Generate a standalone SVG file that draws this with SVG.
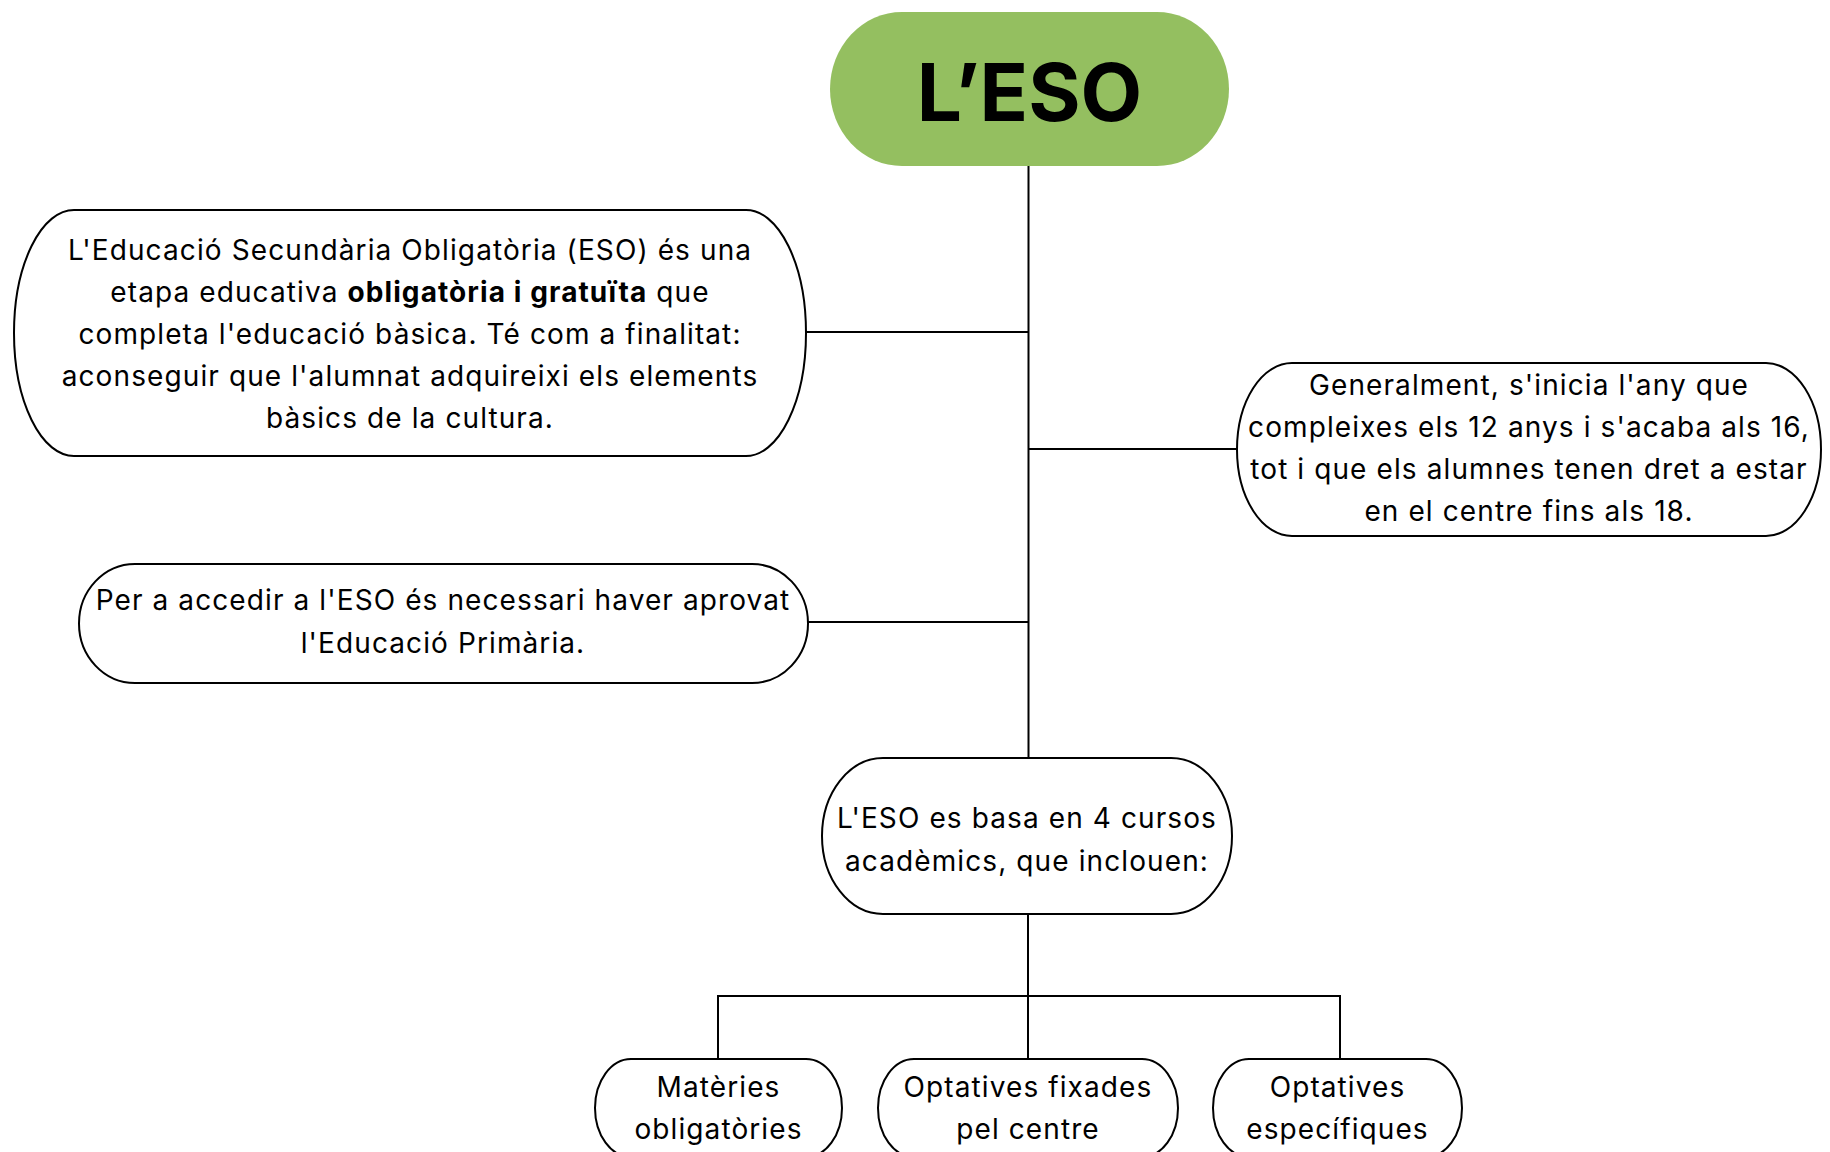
<svg xmlns="http://www.w3.org/2000/svg" width="1830" height="1152" viewBox="0 0 1830 1152">
<style>
.box{fill:#fff;stroke:#000;stroke-width:2}
.t{font-family:Inter,"Noto Sans","DejaVu Sans",sans-serif;font-size:28px;letter-spacing:1.1px;fill:#000;text-anchor:middle}
.b{font-weight:700}
.h{font-size:80px;letter-spacing:0}
.con line{stroke:#000;stroke-width:2}
</style>
<rect width="1830" height="1152" fill="#fff"/>
<g class="con">
<line x1="1028.5" y1="166" x2="1028.5" y2="758"/>
<line x1="806" y1="332" x2="1028.5" y2="332"/>
<line x1="1028.5" y1="449" x2="1237" y2="449"/>
<line x1="808" y1="622" x2="1028.5" y2="622"/>
<line x1="1028" y1="914" x2="1028" y2="1059"/>
<line x1="717" y1="996" x2="1341" y2="996"/>
<line x1="718" y1="996" x2="718" y2="1059"/>
<line x1="1340" y1="996" x2="1340" y2="1059"/>
</g>
<g id="title">
<rect x="830" y="12" width="399" height="154" rx="72" ry="77" fill="#94BF60"/>
<text x="1029.5" y="121" class="t b h">L’ESO</text>
</g>
<g id="n1">
<rect class="box" x="14" y="210" width="792" height="246" rx="60" ry="123"/>
<text class="t" x="410" y="260">L'Educació Secundària Obligatòria (ESO) és una</text>
<text class="t" x="410" y="302">etapa educativa <tspan class="b">obligatòria i gratuïta</tspan> que</text>
<text class="t" x="410" y="344">completa l'educació bàsica. Té com a finalitat:</text>
<text class="t" x="410" y="386">aconseguir que l'alumnat adquireixi els elements</text>
<text class="t" x="410" y="428">bàsics de la cultura.</text>
</g>
<g id="n2">
<rect class="box" x="1237" y="363" width="584" height="173" rx="55" ry="86.5"/>
<text class="t" x="1529" y="395">Generalment, s'inicia l'any que</text>
<text class="t" x="1529" y="437">compleixes els 12 anys i s'acaba als 16,</text>
<text class="t" x="1529" y="479">tot i que els alumnes tenen dret a estar</text>
<text class="t" x="1529" y="521">en el centre fins als 18.</text>
</g>
<g id="n3">
<rect class="box" x="79" y="564" width="729" height="119" rx="56" ry="59.5"/>
<text class="t" x="443" y="610">Per a accedir a l'ESO és necessari haver aprovat</text>
<text class="t" x="443" y="653">l'Educació Primària.</text>
</g>
<g id="n4">
<rect class="box" x="822" y="758" width="410" height="156" rx="61" ry="78"/>
<text class="t" x="1027" y="828">L'ESO es basa en 4 cursos</text>
<text class="t" x="1027" y="871">acadèmics, que inclouen:</text>
</g>
<g id="n5">
<rect class="box" x="595" y="1059" width="247" height="98" rx="36" ry="49"/>
<text class="t" x="718.5" y="1097">Matèries</text>
<text class="t" x="718.5" y="1139">obligatòries</text>
</g>
<g id="n6">
<rect class="box" x="878" y="1059" width="300" height="98" rx="36" ry="49"/>
<text class="t" x="1028" y="1097">Optatives fixades</text>
<text class="t" x="1028" y="1139">pel centre</text>
</g>
<g id="n7">
<rect class="box" x="1213" y="1059" width="249" height="98" rx="36" ry="49"/>
<text class="t" x="1337.5" y="1097">Optatives</text>
<text class="t" x="1337.5" y="1139">específiques</text>
</g>
</svg>
